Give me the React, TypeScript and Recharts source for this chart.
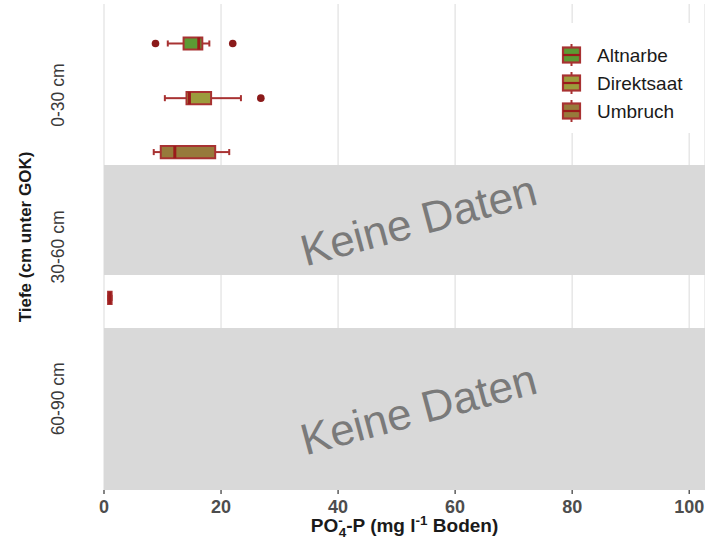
import React from 'react';
import {
  ComposedChart,
  XAxis,
  YAxis,
  CartesianGrid,
  ReferenceArea,
  ReferenceLine,
  Scatter,
  Label,
} from 'recharts';

// ---------- data ----------
const depthLabels = ['0-30 cm', '30-60 cm', '60-90 cm'];
const depthTicks = [1, 2, 3];
const xTicks = [0, 20, 40, 60, 80, 100];

const groupNames = ['Altnarbe', 'Direktsaat', 'Umbruch'];
const groupFills = ['#5c9a34', '#9c9c3c', '#977a3b'];

// box statistics (one entry per box)
const boxGroup = [0, 1, 2, 2];
const boxY = [0.66, 1.02, 1.375, 2.335];
const boxMin = [10.9, 10.4, 8.5, 0.7];
const boxQ1 = [13.6, 14.1, 9.7, 0.7];
const boxMedian = [16.2, 14.6, 12.1, 1.0];
const boxQ3 = [16.8, 18.3, 19.0, 1.3];
const boxMax = [18.0, 23.4, 21.4, 1.3];

// outliers
const outlierBox = [0, 0, 1];
const outlierValue = [8.8, 22.0, 26.8];

// "no data" bands
const bandY1 = [1.46, 2.533];
const bandY2 = [2.184, 3.6];
const bandText = 'Keine Daten';

const X_MAX = 102.7;
const BOX_HALF = 0.04;
const CAP_HALF = 0.02;

const STROKE = '#a83232';
const MEDIAN = '#9b1b1b';
const OUTLIER = '#8b1a1a';
const FONT = '"Liberation Sans", Arial, sans-serif';

const outlierData = outlierBox.map((b, i) => ({ x: outlierValue[i], y: boxY[b] }));

const YTick = (props: any) => {
  const { y, payload } = props;
  const x = 64;
  return (
    <text
      x={x}
      y={y}
      transform={`rotate(-90, ${x}, ${y})`}
      textAnchor="middle"
      fontSize={17.5}
      fill="#3a3a3a"
      fontFamily={FONT}
    >
      {depthLabels[payload.value - 1]}
    </text>
  );
};

const XTitle = (props: any) => {
  const vb = props.viewBox || {};
  const cx = (vb.x ?? 104) + (vb.width ?? 601) / 2;
  const y = (vb.y ?? 490) + 42;
  return (
    <text x={cx} y={y} textAnchor="middle" fontSize={19} fontWeight="bold" fill="#1a1a1a" fontFamily={FONT}>
      PO
      <tspan fontSize={13.5} dy={-7}>-</tspan>
      <tspan fontSize={13.5} dx={-4} dy={12}>4</tspan>
      <tspan fontSize={19} dy={-5}>-P (mg l</tspan>
      <tspan fontSize={13.5} dy={-7}>-1</tspan>
      <tspan fontSize={19} dy={7}> Boden)</tspan>
    </text>
  );
};

const YTitle = (props: any) => {
  const vb = props.viewBox || {};
  const cy = (vb.y ?? 4) + (vb.height ?? 486) / 2 - 10;
  const x = 31;
  return (
    <text
      x={x}
      y={cy}
      transform={`rotate(-90, ${x}, ${cy})`}
      textAnchor="middle"
      fontSize={17}
      fontWeight="bold"
      fill="#1a1a1a"
      fontFamily={FONT}
    >
      Tiefe (cm unter GOK)
    </text>
  );
};

const LegendBox = () => (
  <svg
    width={150}
    height={110}
    style={{ position: 'absolute', left: 550, top: 23, display: 'block', background: '#fff' }}
  >
    {groupNames.map((g, i) => {
      const cy = 32 + i * 28;
      return (
        <g key={g}>
          <line x1={21.5} x2={21.5} y1={cy - 11} y2={cy + 11} stroke={STROKE} strokeWidth={2} />
          <rect x={13} y={cy - 7.5} width={17} height={15} fill={groupFills[i]} stroke={STROKE} strokeWidth={2.2} />
          <line x1={13} x2={30} y1={cy} y2={cy} stroke={MEDIAN} strokeWidth={2.2} />
          <text x={47} y={cy} dominantBaseline="central" fontSize={19} fill="#1a1a1a" fontFamily={FONT}>
            {g}
          </text>
        </g>
      );
    })}
  </svg>
);

export default function App() {
  return (
    <div style={{ position: 'absolute', left: 0, top: 0, width: 705, height: 546, background: '#fff' }}>
      <ComposedChart
        width={705}
        height={546}
        margin={{ top: 4, right: 0, bottom: 0, left: 0 }}
        style={{ fontFamily: FONT }}
      >
        <CartesianGrid horizontal={false} stroke="#e3e3e3" strokeWidth={1.3} />
        <XAxis
          type="number"
          dataKey="x"
          domain={[0, X_MAX]}
          ticks={xTicks}
          allowDataOverflow
          height={56}
          axisLine={false}
          tickLine={{ stroke: '#333', strokeWidth: 1.2 }}
          tickSize={4}
          tickMargin={6}
          tick={{ fontSize: 18, fontWeight: 'bold', fill: '#4d4d4d', fontFamily: FONT }}
          label={<Label content={XTitle} />}
        />
        <YAxis
          type="number"
          dataKey="y"
          domain={[0.4, 3.6]}
          ticks={depthTicks}
          reversed
          allowDataOverflow
          width={104}
          axisLine={false}
          tickLine={false}
          tick={YTick}
          label={<Label content={YTitle} />}
        />

        {bandY1.map((y1, i) => (
          <ReferenceArea
            key={`band${i}`}
            y1={y1}
            y2={bandY2[i]}
            fill="#d9d9d9"
            fillOpacity={1}
            stroke="none"
            label={
              <Label
                value={bandText}
                position="center"
                angle={-15}
                dx={14}
                fontSize={44}
                fill="#7a7a7a"
                fontFamily={FONT}
              />
            }
          />
        ))}

        {boxY.map((y, i) => (
          <ReferenceLine
            key={`wl${i}`}
            segment={[{ x: boxMin[i], y }, { x: boxQ1[i], y }]}
            stroke={STROKE}
            strokeWidth={2}
          />
        ))}
        {boxY.map((y, i) => (
          <ReferenceLine
            key={`wr${i}`}
            segment={[{ x: boxQ3[i], y }, { x: boxMax[i], y }]}
            stroke={STROKE}
            strokeWidth={2}
          />
        ))}
        {boxY.map((y, i) => (
          <ReferenceLine
            key={`cl${i}`}
            segment={[{ x: boxMin[i], y: y - CAP_HALF }, { x: boxMin[i], y: y + CAP_HALF }]}
            stroke={STROKE}
            strokeWidth={2}
          />
        ))}
        {boxY.map((y, i) => (
          <ReferenceLine
            key={`cr${i}`}
            segment={[{ x: boxMax[i], y: y - CAP_HALF }, { x: boxMax[i], y: y + CAP_HALF }]}
            stroke={STROKE}
            strokeWidth={2}
          />
        ))}
        {boxY.map((y, i) => (
          <ReferenceArea
            key={`box${i}`}
            x1={boxQ1[i]}
            x2={boxQ3[i]}
            y1={y - BOX_HALF}
            y2={y + BOX_HALF}
            fill={groupFills[boxGroup[i]]}
            fillOpacity={1}
            stroke={STROKE}
            strokeWidth={2}
          />
        ))}
        {boxY.map((y, i) => (
          <ReferenceLine
            key={`med${i}`}
            segment={[{ x: boxMedian[i], y: y - BOX_HALF }, { x: boxMedian[i], y: y + BOX_HALF }]}
            stroke={MEDIAN}
            strokeWidth={3}
          />
        ))}

        <Scatter
          data={outlierData}
          isAnimationActive={false}
          shape={(p: any) => <circle cx={p.cx} cy={p.cy} r={3.8} fill={OUTLIER} />}
        />
      </ComposedChart>
      <LegendBox />
    </div>
  );
}
